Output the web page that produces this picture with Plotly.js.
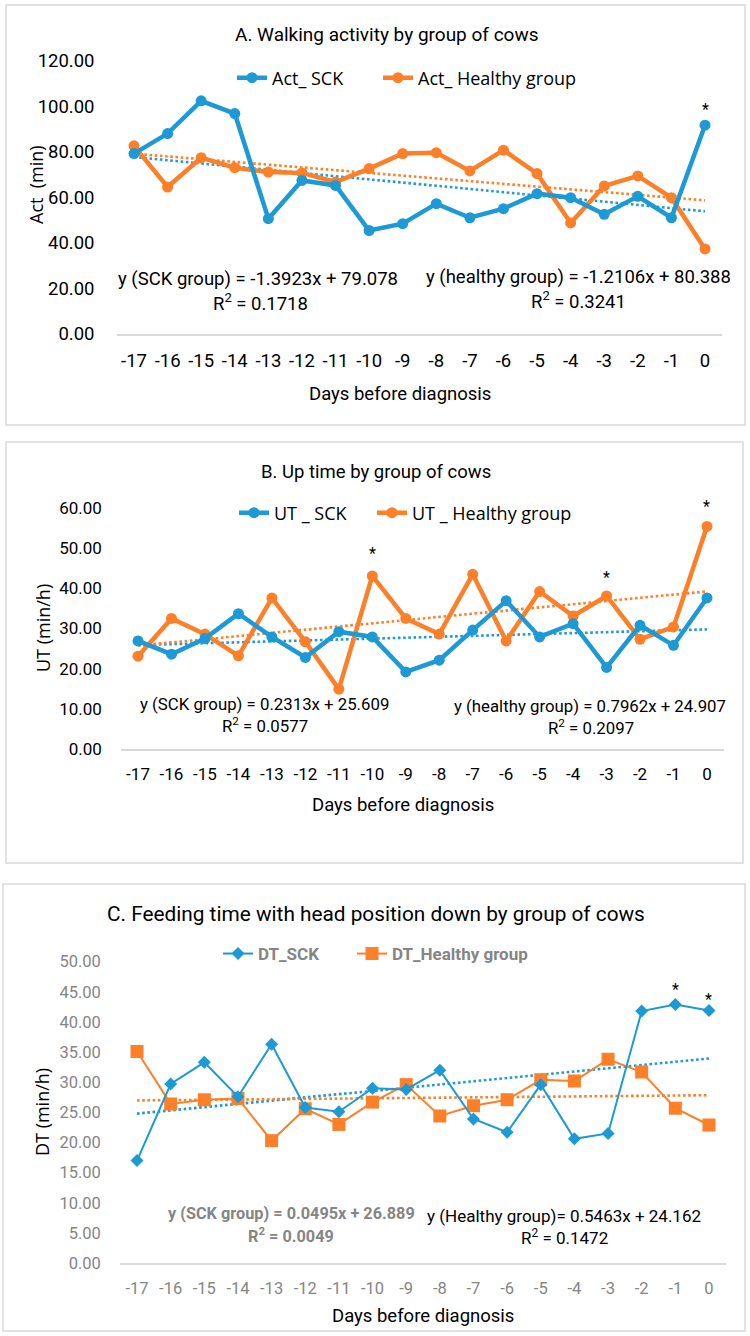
<!DOCTYPE html>
<html>
<head>
<meta charset="utf-8">
<script src="https://cdn.plot.ly/plotly-3.0.1.min.js"></script>
<style>html,body{margin:0;padding:0;background:#fff}</style>
</head>
<body>
<div id="chart" style="width:750px;height:1336px"></div>
<script>
// ---------- data ----------
const days = [-17,-16,-15,-14,-13,-12,-11,-10,-9,-8,-7,-6,-5,-4,-3,-2,-1,0];
const dayLabels = ['-17','-16','-15','-14','-13','-12','-11','-10','-9','-8','-7','-6','-5','-4','-3','-2','-1','0'];

const actSCK     = [79.3,88.1,102.5,96.9,50.7,67.5,65.3,45.5,48.5,57.3,51.1,55.1,61.7,59.9,52.6,60.5,51.1,91.8];
const actHealthy = [82.7,64.6,77.5,73.1,71.2,70.8,66.8,72.7,79.3,79.7,71.7,80.8,70.5,48.8,65.1,69.5,59.9,37.4];

const utSCK      = [26.9,23.6,27.5,33.7,27.9,22.8,29.2,27.9,19.2,22.1,29.6,36.9,27.9,31.2,20.3,30.8,25.8,37.6];
const utHealthy  = [23.1,32.5,28.6,23.2,37.6,26.7,14.9,43.1,32.5,28.6,43.5,26.9,39.2,33.1,38.1,27.3,30.4,55.4];

const dtSCK      = [17.0,29.7,33.3,27.6,36.3,25.8,25.1,29.0,28.8,32.0,23.9,21.7,29.6,20.6,21.5,41.8,42.9,41.9];
const dtHealthy  = [35.1,26.4,27.1,27.3,20.3,25.6,23.0,26.7,29.6,24.4,26.1,27.1,30.4,30.2,33.8,31.7,25.7,22.9];

const actTicks = [0,20,40,60,80,100,120];
const utTicks  = [0,10,20,30,40,50,60];
const dtTicks  = [0,5,10,15,20,25,30,35,40,45,50];

const titles = ['A. Walking activity by group of cows','B. Up time by group of cows','C. Feeding time with head position down by group of cows'];
const yTitles = ['Act  (min)','UT (min/h)','DT (min/h)'];
const xTitle = 'Days before diagnosis';
const seriesNames = [['Act_ SCK','Act_ Healthy group'],['UT _ SCK','UT _ Healthy group'],['DT_SCK','DT_Healthy group']];
const eqA = ['y (SCK group) = -1.3923x + 79.078','R<sup>2</sup> = 0.1718','y (healthy group) = -1.2106x + 80.388','R<sup>2</sup> = 0.3241'];
const eqB = ['y (SCK group) = 0.2313x + 25.609','R<sup>2</sup> = 0.0577','y (healthy group) = 0.7962x + 24.907','R<sup>2</sup> = 0.2097'];
const eqC = ['y (SCK group) = 0.0495x + 26.889','R<sup>2</sup> = 0.0049','y (Healthy group)= 0.5463x + 24.162','R<sup>2</sup> = 0.1472'];

// ---------- helpers ----------
const W = 750, H = 1336;
const PX = x => x / W;
const PY = y => 1 - y / H;
const BLUE = '#1d9ad6', ORANGE = '#fd7f28', GRAY = '#858585', BORDER = '#d9d9d9';
const ROB = 'Roboto, "Liberation Sans", sans-serif';
const OPEN = '"Open Sans", "Noto Sans", sans-serif';

// linear least-squares trend (Excel style, x = 1..n)
function trend(ys) {
  const n = ys.length;
  let sx = 0, sy = 0, sxx = 0, sxy = 0;
  ys.forEach((y, i) => { const x = i + 1; sx += x; sy += y; sxx += x * x; sxy += x * y; });
  const b = (n * sxy - sx * sy) / (n * sxx - sx * sx);
  const a = (sy - b * sx) / n;
  return ys.map((_, i) => a + b * (i + 1));
}

const traces = [];
function addPanel(sck, healthy, xa, ya, names, thick, legA, legB) {
  const lw = thick ? 4.5 : 2;
  traces.push({x: days, y: trend(sck), xaxis: xa, yaxis: ya, mode: 'lines', showlegend: false, hoverinfo: 'skip',
    line: {color: BLUE, width: 2.6, dash: '2.6px,2.6px'}});
  traces.push({x: days, y: trend(healthy), xaxis: xa, yaxis: ya, mode: 'lines', showlegend: false, hoverinfo: 'skip',
    line: {color: ORANGE, width: 2.6, dash: '2.6px,2.6px'}});
  traces.push({x: days, y: healthy, xaxis: xa, yaxis: ya, name: names[1], legend: legB, mode: 'lines+markers',
    line: {color: ORANGE, width: lw},
    marker: thick ? {symbol: 'circle', size: 11, color: ORANGE} : {symbol: 'square', size: 13, color: ORANGE}});
  traces.push({x: days, y: sck, xaxis: xa, yaxis: ya, name: names[0], legend: legA, mode: 'lines+markers',
    line: {color: BLUE, width: lw},
    marker: thick ? {symbol: 'circle', size: 11, color: BLUE} : {symbol: 'diamond', size: 10, color: BLUE}});
}
addPanel(actSCK, actHealthy, 'x', 'y', seriesNames[0], true, 'legend', 'legend2');
addPanel(utSCK, utHealthy, 'x2', 'y2', seriesNames[1], true, 'legend3', 'legend4');
addPanel(dtSCK, dtHealthy, 'x3', 'y3', seriesNames[2], false, 'legend5', 'legend6');

function xAxis(domain, anchor, color, fs, tl) {
  return {domain: domain, anchor: anchor, range: [-17.5, 0.5], tickmode: 'array', tickvals: days, ticktext: dayLabels,
    showline: true, linecolor: BORDER, linewidth: 2, ticks: 'outside', ticklen: tl, tickcolor: 'rgba(0,0,0,0)',
    tickfont: {family: ROB, size: fs, color: color}, showgrid: false, zeroline: false, fixedrange: true};
}
function yAxis(domain, anchor, range, ticks, color, fs, tl) {
  return {domain: domain, anchor: anchor, range: range, tickmode: 'array', tickvals: ticks, tickformat: '.2f',
    showline: false, ticks: 'outside', ticklen: tl, tickcolor: 'rgba(0,0,0,0)',
    tickfont: {family: ROB, size: fs, color: color}, showgrid: false, zeroline: false, fixedrange: true};
}

function legendAt(textStartPx, cyPx, font) {
  return {x: PX(textStartPx - 40), xanchor: 'left', y: PY(cyPx), yanchor: 'middle', orientation: 'h',
    bgcolor: 'rgba(0,0,0,0)', borderwidth: 0, font: font, itemclick: false, itemdoubleclick: false};
}
const legFontAB = {family: OPEN, size: 18, color: '#000'};
const legFontC = {family: ROB, size: 17, color: GRAY, weight: 'bold'};

const ann = [];
function txt(text, x, y, size, opts) {
  ann.push(Object.assign({text: text, xref: 'paper', yref: 'paper', x: PX(x), y: PY(y), xanchor: 'center', yanchor: 'middle',
    showarrow: false, font: {family: ROB, size: size, color: '#000'}}, opts || {}));
}
// titles
txt(titles[0], 387, 35, 19);
txt(titles[1], 376, 472, 18.5);
txt(titles[2], 376, 914, 20.8);
// x titles
txt(xTitle, 400, 394, 18.5);
txt(xTitle, 403, 805, 18.5);
txt(xTitle, 423, 1316, 18.5);
// y titles
const yTitleFont = {family: OPEN, size: 18, color: '#000'};
txt(yTitles[0], 36, 185, 18, {textangle: -90, font: yTitleFont});
txt(yTitles[1], 43, 628, 18, {textangle: -90, font: yTitleFont});
txt(yTitles[2], 42, 1112, 18, {textangle: -90, font: yTitleFont});
// equations
txt(eqA[0], 258, 279, 18.5); txt(eqA[1], 260, 302, 18.5); txt(eqA[2], 578, 277, 18.5); txt(eqA[3], 578, 300, 18.5);
txt(eqB[0], 264, 704, 16.8); txt(eqB[1], 265, 725, 16.8); txt(eqB[2], 590, 706, 16.8); txt(eqB[3], 591, 727, 16.8);
const grayBold = {family: ROB, size: 16.3, color: GRAY, weight: 'bold'};
txt(eqC[0], 291, 1213, 16.3, {font: grayBold}); txt(eqC[1], 291, 1235, 16.3, {font: grayBold});
txt(eqC[2], 564, 1216, 17); txt(eqC[3], 564, 1237, 17);
// significance stars
function star(xa, ya, x, y, shift) {
  ann.push({text: '*', xref: xa, yref: ya, x: x, y: y, yshift: shift, showarrow: false,
    xanchor: 'center', yanchor: 'middle', font: {family: ROB, size: 16, color: '#000'}});
}
star('x', 'y', days[17], actSCK[17], 16);
star('x2', 'y2', days[7], utHealthy[7], 22);
star('x2', 'y2', days[14], utHealthy[14], 18);
star('x2', 'y2', days[17], utHealthy[17], 20);
star('x3', 'y3', days[16], dtSCK[16], 15);
star('x3', 'y3', days[17], dtSCK[17], 11);

const box = (x0, y0, x1, y1) => ({type: 'rect', xref: 'paper', yref: 'paper', x0: PX(x0), x1: PX(x1), y0: PY(y1), y1: PY(y0),
  line: {color: BORDER, width: 1.5}, fillcolor: 'rgba(0,0,0,0)', layer: 'below'});

const layout = {
  width: W, height: H, margin: {l: 0, r: 0, t: 0, b: 0}, paper_bgcolor: '#fff', plot_bgcolor: 'rgba(0,0,0,0)',
  showlegend: true,
  xaxis:  xAxis([PX(117.2), PX(721.8)], 'y', '#000', 18.5, 9),
  yaxis:  yAxis([PY(334), PY(61)], 'x', [0, 120], actTicks, '#000', 18.5, 18),
  xaxis2: xAxis([PX(121.3), PX(723.7)], 'y2', '#000', 17, 9),
  yaxis2: yAxis([PY(749), PY(508)], 'x2', [0, 60], utTicks, '#000', 17, 15),
  xaxis3: xAxis([PX(120.2), PX(725.8)], 'y3', GRAY, 16.5, 9),
  yaxis3: yAxis([PY(1263), PY(961.7)], 'x3', [0, 50], dtTicks, GRAY, 16.5, 15),
  legend:  legendAt(272, 78, legFontAB),
  legend2: legendAt(418, 78, legFontAB),
  legend3: legendAt(274, 513, legFontAB),
  legend4: legendAt(412, 513, legFontAB),
  legend5: legendAt(258, 954, legFontC),
  legend6: legendAt(392, 954, legFontC),
  annotations: ann,
  shapes: [box(6, 5, 745, 425), box(6, 442, 743, 863), box(3, 884, 745, 1331)]
};

Plotly.newPlot('chart', traces, layout, {staticPlot: true, displayModeBar: false});
</script>
</body>
</html>
